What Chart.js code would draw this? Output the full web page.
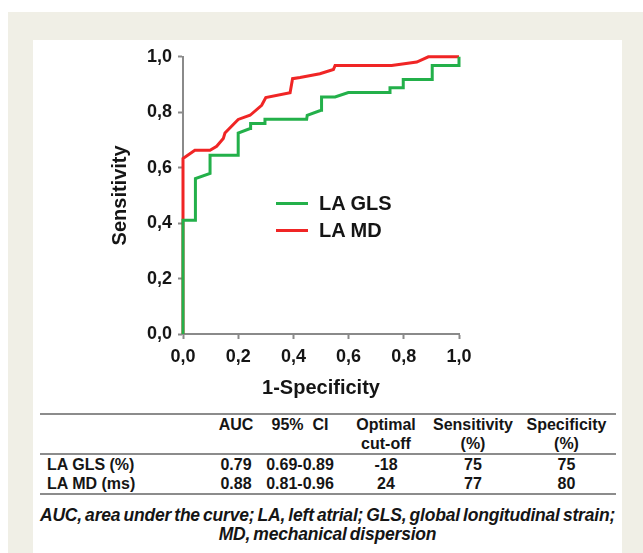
<!DOCTYPE html>
<html>
<head>
<meta charset="utf-8">
<script src="https://cdn.jsdelivr.net/npm/chart.js@4/dist/chart.umd.min.js"></script>
<style>
  html, body { margin: 0; padding: 0; background: #fff; width: 643px; height: 553px; overflow: hidden; }
  body { position: relative; font-family: "Liberation Sans", Arial, sans-serif; color: #151515; }
  .frame { position: absolute; left: 8px; top: 12px; width: 635px; height: 541px; background: #f0efe6; }
  .panel { position: absolute; left: 33px; top: 40px; width: 589px; height: 513px; background: #fff; }
  #wrap { position: absolute; left: 100px; top: 40px; width: 380px; height: 372px; }
  .legend { position: absolute; left: 276px; font-weight: bold; font-size: 20px; line-height: 24px; }
  .legend i { display: inline-block; width: 32px; height: 3px; vertical-align: middle; margin-right: 11px; position: relative; top: -1px; }
  table { position: absolute; left: 40px; top: 413px; width: 576px; border-collapse: collapse; table-layout: fixed;
          font-weight: bold; font-size: 16px; border-top: 2px solid #8c8c8c; border-bottom: 2px solid #8c8c8c; }
  td { padding: 0; height: 19px; line-height: 19px; text-align: center; white-space: nowrap; }
  td.lab { text-align: left; padding-left: 7px; }
  tr.mid td { border-bottom: 2px solid #8c8c8c; }
  .caption { position: absolute; left: 33px; width: 589px; top: 506px; text-align: center; font-weight: bold; font-style: italic;
             font-size: 17.5px; line-height: 18.5px; letter-spacing: -0.2px; word-spacing: -1.5px; white-space: nowrap; }
</style>
</head>
<body>
<div class="frame"></div>
<div class="panel"></div>
<div id="wrap"><canvas id="roc"></canvas></div>
<div class="legend" style="top:191px"><i style="background:#23b04a"></i>LA GLS</div>
<div class="legend" style="top:218px"><i style="background:#f02525"></i>LA MD</div>

<table>
  <colgroup><col style="width:175px"><col style="width:42px"><col style="width:86px"><col style="width:86px"><col style="width:88px"><col style="width:99px"></colgroup>
  <tr><td></td><td>AUC</td><td>95%&nbsp; CI</td><td>Optimal</td><td>Sensitivity</td><td>Specificity</td></tr>
  <tr class="mid"><td></td><td></td><td></td><td>cut-off</td><td>(%)</td><td>(%)</td></tr>
  <tr><td class="lab">LA GLS (%)</td><td>0.79</td><td>0.69-0.89</td><td>-18</td><td>75</td><td>75</td></tr>
  <tr><td class="lab">LA MD (ms)</td><td>0.88</td><td>0.81-0.96</td><td>24</td><td>77</td><td>80</td></tr>
</table>
<div class="caption">AUC, area under the curve; LA, left atrial; GLS, global longitudinal strain;<br>MD, mechanical dispersion</div>

<script>
// ROC curve points (1-specificity, sensitivity)
const glsFpr = [0, 0, 0.045, 0.045, 0.098, 0.098, 0.2, 0.2, 0.243, 0.245, 0.297, 0.297, 0.448, 0.45, 0.5, 0.502, 0.551, 0.599, 0.75, 0.75, 0.798, 0.798, 0.903, 0.903, 1.0, 1.0];
const glsTpr = [0, 0.41, 0.41, 0.561, 0.579, 0.645, 0.645, 0.725, 0.741, 0.759, 0.759, 0.775, 0.775, 0.789, 0.807, 0.855, 0.855, 0.871, 0.871, 0.888, 0.888, 0.918, 0.918, 0.969, 0.969, 1.0];

const mdFpr = [0, 0, 0.043, 0.098, 0.122, 0.146, 0.152, 0.2, 0.243, 0.285, 0.3, 0.388, 0.397, 0.424, 0.496, 0.545, 0.551, 0.756, 0.847, 0.889, 1.0];
const mdTpr = [0, 0.633, 0.663, 0.663, 0.677, 0.705, 0.725, 0.774, 0.789, 0.825, 0.853, 0.87, 0.921, 0.925, 0.939, 0.954, 0.969, 0.969, 0.981, 1.0, 1.0];

const tickLabels = ['0,0', '0,2', '0,4', '0,6', '0,8', '1,0'];

const pts = (xs, ys) => xs.map((x, i) => ({ x, y: ys[i] }));
const axisGrey = '#8a8a8a';
const ff = '"Liberation Sans", Arial, sans-serif';

function axis(title) {
  return {
    type: 'linear', min: 0, max: 1,
    border: { display: true, color: axisGrey, width: 2 },
    grid: { drawOnChartArea: false, drawTicks: true, tickLength: 5, tickWidth: 2, color: axisGrey },
    ticks: {
      stepSize: 0.2, color: '#151515', font: { family: ff, size: 18, weight: 'bold' },
      callback: (v, i) => tickLabels[i],
    },
    title: { display: true, text: title, color: '#151515', font: { family: ff, size: 20, weight: 'bold' } },
  };
}

const xAxis = axis('1-Specificity');
xAxis.ticks.padding = 7;
xAxis.ticks.maxRotation = 0;
xAxis.title.padding = { top: 0, bottom: 12 };
xAxis.afterFit = s => { s.height = 78; };

const yAxis = axis('Sensitivity');
yAxis.ticks.padding = 6;
yAxis.title.padding = { top: 8, bottom: 0 };
yAxis.afterFit = s => { s.width = 83; };

new Chart(document.getElementById('roc'), {
  type: 'line',
  data: {
    datasets: [
      { label: 'LA GLS', data: pts(glsFpr, glsTpr), borderColor: '#23b04a', borderWidth: 3, pointRadius: 0, tension: 0, clip: false, borderJoinStyle: 'miter' },
      { label: 'LA MD',  data: pts(mdFpr, mdTpr),   borderColor: '#f02525', borderWidth: 3, pointRadius: 0, tension: 0, clip: false, borderJoinStyle: 'miter' },
    ],
  },
  options: {
    responsive: true, maintainAspectRatio: false, animation: false,
    layout: { padding: { top: 16, right: 21, bottom: 0, left: 0 } },
    plugins: { legend: { display: false }, tooltip: { enabled: false } },
    scales: { x: xAxis, y: yAxis },
  },
});
</script>
</body>
</html>
